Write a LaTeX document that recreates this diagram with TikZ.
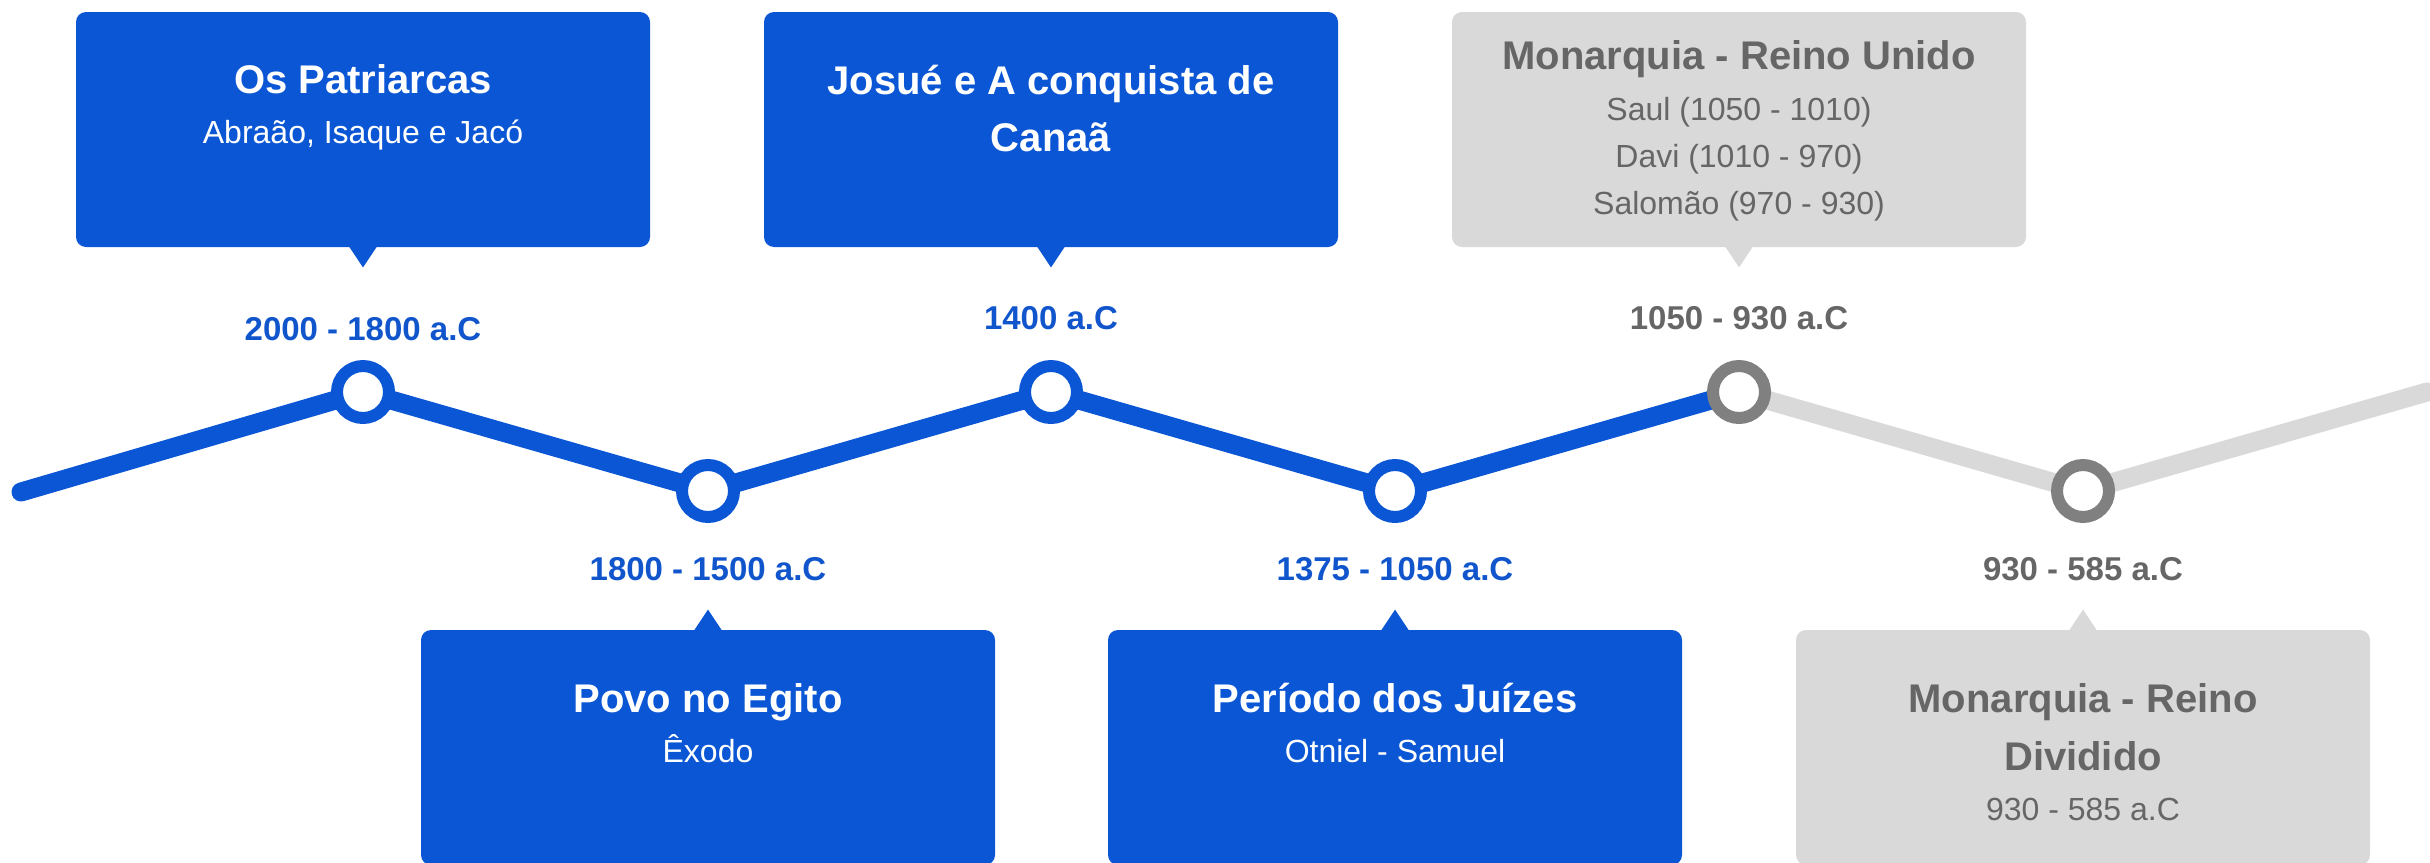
\documentclass[tikz,border=0pt]{standalone}
\usepackage{fontspec}
\setmainfont{Liberation Sans}
\usetikzlibrary{backgrounds}
\definecolor{azul}{RGB}{10,86,212}
\definecolor{azuldata}{RGB}{17,85,204}
\definecolor{cinzacaixa}{RGB}{217,217,217}
\definecolor{cinzalinha}{RGB}{217,217,217}
\definecolor{cinzaanel}{RGB}{128,128,128}
\definecolor{cinzatexto}{RGB}{102,102,102}
\tikzset{
  marco/.style={circle,draw=azul,fill=white,line width=6pt,minimum size=26pt,inner sep=0pt},
  marcogris/.style={marco,draw=cinzaanel},
  caixa/.style={rectangle,rounded corners=5pt,fill=azul,minimum width=287pt,minimum height=117.5pt,inner sep=0pt},
  caixagris/.style={caixa,fill=cinzacaixa},
  texto/.style={text=white,align=center,anchor=north,inner sep=0pt,font=\fontsize{16}{23.5}\selectfont},
  textogris/.style={texto,text=cinzatexto},
  data/.style={text=azuldata,anchor=base,inner sep=0pt,font=\fontsize{16.5}{20}\selectfont\bfseries},
  datagris/.style={data,text=cinzatexto},
  linha/.style={draw=azul,line width=9.5pt,line cap=round,line join=round},
  linhagris/.style={linha,draw=cinzalinha}
}
\newcommand{\titulo}[1]{{\fontsize{20}{27}\selectfont\bfseries #1}}
\begin{document}
\begin{tikzpicture}[x=0.5pt,y=-0.5pt]
\useasboundingbox (0,0) rectangle (2430,862);
% marcos de la ligne du temps
\node[marco] (m1) at (363,392) {};
\node[marco] (m2) at (708,491) {};
\node[marco] (m3) at (1051,392) {};
\node[marco] (m4) at (1395,491) {};
\node[marcogris] (m5) at (1739,392) {};
\node[marcogris] (m6) at (2083,491) {};
\coordinate (ini) at (21,492); % début à gauche
\coordinate (fim) at (2427,392); % fin, coupée au bord
% ligne brisée, sous les marcos
\begin{scope}[on background layer]
\draw[linha] (ini) -- (m1.center) -- (m2.center) -- (m3.center) -- (m4.center) -- (m5.center);
\draw[linhagris] (m5.center) -- (m6.center) -- (fim);
\end{scope}
% boîtes du haut
\node[caixa] (c1) at (363,129.5) {};
\node[caixa] (c3) at (1051,129.5) {};
\node[caixagris] (c5) at (1739,129.5) {};
\fill[azul] ([xshift=-7pt,yshift=0.5pt]c1.south) -- ([yshift=-10pt]c1.south) -- ([xshift=7pt,yshift=0.5pt]c1.south) -- cycle;
\fill[azul] ([xshift=-7pt,yshift=0.5pt]c3.south) -- ([yshift=-10pt]c3.south) -- ([xshift=7pt,yshift=0.5pt]c3.south) -- cycle;
\fill[cinzacaixa] ([xshift=-7pt,yshift=0.5pt]c5.south) -- ([yshift=-10pt]c5.south) -- ([xshift=7pt,yshift=0.5pt]c5.south) -- cycle;
% boîtes du bas
\node[caixa] (c2) at (708,747.5) {};
\node[caixa] (c4) at (1395,747.5) {};
\node[caixagris] (c6) at (2083,747.5) {};
\fill[azul] ([xshift=-7pt,yshift=-0.5pt]c2.north) -- ([yshift=10pt]c2.north) -- ([xshift=7pt,yshift=-0.5pt]c2.north) -- cycle;
\fill[azul] ([xshift=-7pt,yshift=-0.5pt]c4.north) -- ([yshift=10pt]c4.north) -- ([xshift=7pt,yshift=-0.5pt]c4.north) -- cycle;
\fill[cinzacaixa] ([xshift=-7pt,yshift=-0.5pt]c6.north) -- ([yshift=10pt]c6.north) -- ([xshift=7pt,yshift=-0.5pt]c6.north) -- cycle;
% textes des boîtes
\node[texto] (t1) at (363,64) {\titulo{Os Patriarcas}\\[1.5pt]Abraão, Isaque e Jacó};
\node[texto] (t3) at (1051,65) {\titulo{Josué e A conquista de}\\[5pt]\titulo{Canaã}};
\node[textogris] (t5) at (1739,40) {\titulo{Monarquia - Reino Unido}\\[2pt]Saul (1050 - 1010)\\Davi (1010 - 970)\\Salomão (970 - 930)};
\node[texto] (t2) at (708,683) {\titulo{Povo no Egito}\\[1.5pt]Êxodo};
\node[texto] (t4) at (1395,683) {\titulo{Período dos Juízes}\\[1.5pt]Otniel - Samuel};
\node[textogris] (t6) at (2083,683) {\titulo{Monarquia - Reino}\\[5.5pt]\titulo{Dividido}\\[1.5pt]930 - 585 a.C};
% dates
\node[data] (d1) at (363,340) {2000 - 1800 a.C};
\node[data] (d3) at (1051,329) {1400 a.C};
\node[datagris] (d5) at (1739,329) {1050 - 930 a.C};
\node[data] (d2) at (708,580) {1800 - 1500 a.C};
\node[data] (d4) at (1395,580) {1375 - 1050 a.C};
\node[datagris] (d6) at (2083,580) {930 - 585 a.C};
\end{tikzpicture}
\end{document}
